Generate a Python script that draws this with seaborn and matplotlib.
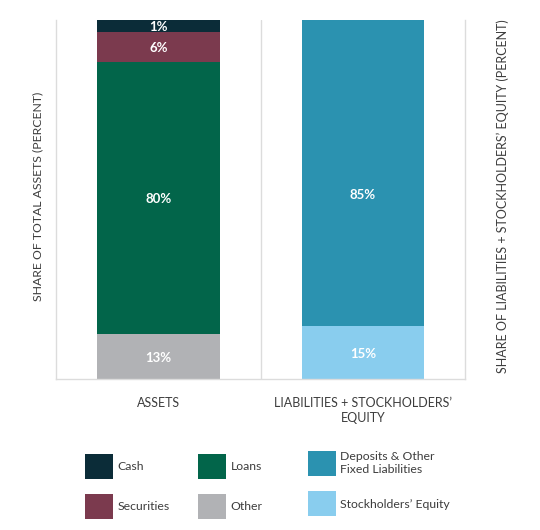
import numpy as np
import pandas as pd
import matplotlib
matplotlib.use("Agg")
import matplotlib.pyplot as plt
from matplotlib.patches import Patch
import seaborn as sns

# ---- data ----
cat_keys = ["Assets", "Liabilities"]
tick_labels = ["ASSETS", "LIABILITIES + STOCKHOLDERS’\nEQUITY"]

seg_names = ["Other", "Loans", "Securities", "Cash",
             "Stockholders’ Equity", "Deposits & Other\nFixed Liabilities"]
seg_cats = ["Assets", "Assets", "Assets", "Assets", "Liabilities", "Liabilities"]
seg_values = [12.6, 75.7, 8.4, 3.3, 14.8, 85.2]
seg_labels = ["13%", "80%", "6%", "1%", "15%", "85%"]
seg_colors = ["#b1b2b5", "#02654a", "#7b3a4e", "#0b2c38", "#89cdee", "#2b92b0"]

legend_cols = [["Cash", "Securities"],
               ["Loans", "Other"],
               ["Deposits & Other\nFixed Liabilities", "Stockholders’ Equity"]]

left_ylabel = "SHARE OF TOTAL ASSETS (PERCENT)"
right_ylabel = "SHARE OF LIABILITIES + STOCKHOLDERS’ EQUITY (PERCENT)"

# label placement within each segment (fraction of segment height from its bottom)
label_frac = {"Deposits & Other\nFixed Liabilities": 0.43}

# ---- build table ----
df = pd.DataFrame({"category": seg_cats, "segment": seg_names,
                   "value": seg_values, "label": seg_labels, "color": seg_colors})
df["top"] = df.groupby("category")["value"].cumsum()
df["bottom"] = df["top"] - df["value"]
df["frac"] = [label_frac.get(n, 0.5) for n in df["segment"]]
df["center"] = df["bottom"] + df["value"] * df["frac"]

sns.set_theme(style="white")
plt.rcParams["font.family"] = ["Lato", "DejaVu Sans"]
text_color = "#3d3d3d"
line_color = "#dcdcdc"

fig = plt.figure(figsize=(5.4, 5.3), dpi=100)
ax = fig.add_axes([56.3 / 540, 1 - 379.3 / 530, (465 - 56.3) / 540, (379.3 - 20) / 530])

# stacked bars by overlaying cumulative tops (largest first)
for _, row in df.sort_values("top", ascending=False).iterrows():
    sns.barplot(data=df[df["segment"] == row["segment"]], x="category", y="top",
                order=cat_keys, color=row["color"], saturation=1, width=0.6,
                errorbar=None, linewidth=0, ax=ax)

for _, row in df.iterrows():
    ax.text(cat_keys.index(row["category"]), row["center"], row["label"],
            ha="center", va="center_baseline", color="white", fontsize=9.5,
            fontweight="bold")

ax.set_ylim(0, 100)
ax.set_xlim(-0.5, len(cat_keys) - 0.5)
ax.set_yticks([])
ax.set_xlabel("")
ax.set_ylabel("")
ax.set_xticks(range(len(cat_keys)))
ax.set_xticklabels(tick_labels, fontsize=9, color=text_color, linespacing=1.3)
ax.tick_params(axis="x", length=0, pad=12.5)
ax.set_xticks([0.5], minor=True)
ax.tick_params(axis="x", which="minor", length=0)
ax.grid(which="minor", axis="x", color=line_color, linewidth=1)
ax.set_axisbelow(True)
for side in ["left", "right", "bottom"]:
    ax.spines[side].set_color(line_color)
    ax.spines[side].set_linewidth(1)
ax.spines["top"].set_visible(False)

fig.text(38 / 540, 1 - 196 / 530, left_ylabel, rotation=90, ha="center",
         va="center", fontsize=8.8, color=text_color)
fig.text(503 / 540, 1 - 196 / 530, right_ylabel, rotation=90, ha="center",
         va="center", fontsize=9, color=text_color)

# legends (one per column)
color_of = dict(zip(seg_names, seg_colors))
anchors = [(85 / 540, 1 - 454 / 530), (198 / 540, 1 - 454 / 530), (308 / 540, 1 - 451 / 530)]
for names, anc in zip(legend_cols, anchors):
    handles = [Patch(facecolor=color_of[n], edgecolor="none", label=n) for n in names]
    fig.legend(handles=handles, loc="upper left", bbox_to_anchor=anc,
               frameon=False, fontsize=8.8, handlelength=2.25, handleheight=2.78,
               handletextpad=0.4, labelspacing=1.23, borderpad=0,
               borderaxespad=0, labelcolor=text_color)

fig.savefig("out.png", dpi=100)
